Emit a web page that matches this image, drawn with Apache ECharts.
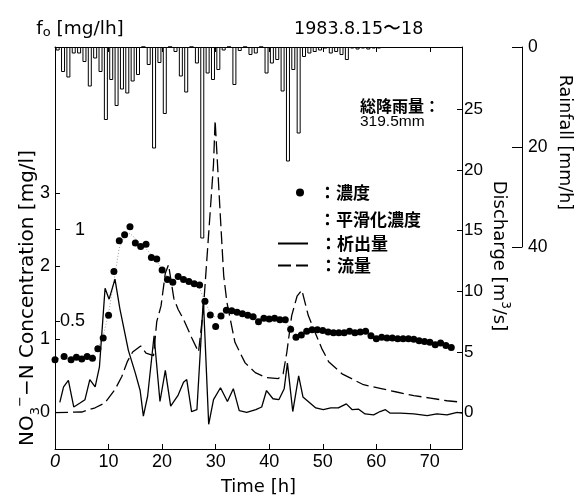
<!DOCTYPE html>
<html><head><meta charset="utf-8">
<script src="https://cdn.jsdelivr.net/npm/echarts@6/dist/echarts.min.js"></script>
<style>html,body{margin:0;padding:0;background:#fff}#c{width:581px;height:499px}</style>
</head><body><div id="c"></div>
<script>
// ---- tick labels ----
const timeTicks = [0, 10, 20, 30, 40, 50, 60, 70];
const concTicks = [0, 1, 2, 3];
const fluxTicks = [0.5, 1];
const dischargeTicks = [0, 5, 10, 15, 20, 25];
const rainTicks = [0, 20, 40];

// ---- NO3-N concentration (dots) [mg/l] ----
const concTime = [0,1.7,3,4,5,6,7,8,9,10,11,12,13,14,15,16,17,18,19,20,21,22,23,24,25,26,27,28,29,30,31,32,33,34,35,36,37,38,39,40,41,42,43,44,45,46,47,48,49,50,51,52,53,54,55,56,57,58,59,60,61,62,63,64,65,66,67,68,69,70,71,72,73,74];
const concValue = [0.72,0.765,0.72,0.756,0.73,0.765,0.74,0.87,1.02,1.33,1.93,2.35,2.43,2.54,2.32,2.27,2.30,2.12,2.10,1.95,1.82,1.78,1.86,1.82,1.79,1.76,1.745,1.52,1.335,1.175,1.32,1.40,1.39,1.37,1.35,1.33,1.31,1.24,1.29,1.28,1.29,1.27,1.27,1.14,1.03,1.06,1.11,1.13,1.13,1.12,1.10,1.09,1.09,1.09,1.11,1.09,1.10,1.11,1.05,1.01,1.03,1.02,1.02,1.01,1.01,1.01,1.00,0.98,0.97,0.96,0.925,0.95,0.915,0.89];

// ---- smoothed concentration [mg/l] ----
const smoothTime = [0,1,2,3,4,5,6,7,8,9,10,11,12,13,14,15,16,17,18,19,20,21,22,23,24,25,26,27,28,29,30,31,32,33,34,35,36,37,38,39,40,41,42,43,44,45,46,47,48,49,50,51,52,53,54,55,56,57,58,59,60,61,62,63,64,65,66,67,68,69,70,71,72,73,74];
const smoothValue = [0.73,0.74,0.74,0.74,0.74,0.75,0.75,0.78,0.87,1.05,1.35,1.80,2.25,2.42,2.45,2.38,2.30,2.24,2.16,2.07,1.96,1.86,1.82,1.82,1.81,1.79,1.76,1.70,1.52,1.36,1.30,1.33,1.37,1.38,1.37,1.35,1.33,1.30,1.28,1.28,1.28,1.28,1.27,1.24,1.14,1.07,1.07,1.10,1.12,1.12,1.11,1.10,1.09,1.09,1.10,1.10,1.10,1.10,1.09,1.05,1.03,1.02,1.02,1.02,1.01,1.01,1.01,1.00,0.98,0.97,0.95,0.94,0.93,0.91,0.89];

// ---- f_o (析出量) [mg/lh] ----
const fluxTime = [0.9,1.6,2.5,3.5,4.6,5.6,6.5,7.5,8.3,9.35,10.1,11.2,12.1,13.7,15.0,15.9,16.5,17.3,18.5,19.6,20.6,21.6,23.0,24.0,24.6,25.5,26.5,27.7,28.7,29.6,30.9,32.2,33.3,34.4,35.8,37.5,38.6,39.5,40.7,41.8,42.8,43.4,44.4,45.5,46.3,47.5,48.7,50.1,51.5,52.9,54.4,55.5,56.7,57.9,59.5,60.7,61.7,62.6,64.5,67.0,69.5,71.3,73.2,75.1,76.0];
const fluxValue = [0.055,0.14,0.175,0.03,0.05,0.07,0.18,0.14,0.25,0.68,0.62,0.73,0.57,0.34,0.215,0.12,-0.02,0.09,0.42,0.06,0.23,0.035,0.095,0.165,0.18,0.005,0.015,0.62,-0.065,0.07,0.135,0.06,0.13,0.01,0.0,0.015,0.03,0.12,0.075,0.07,0.13,0.27,0.005,0.2,0.085,0.055,0.025,0.015,0.025,0.025,0.047,0.015,0.018,-0.008,-0.013,0.005,0.015,-0.004,-0.004,-0.008,-0.017,-0.008,-0.013,0.0,-0.004];

// ---- discharge (流量) [m3/s] ----
const dischargeTime = [0,5,7.5,9.3,11.2,12.5,13.5,14.5,16.0,17.0,18.4,19.0,19.8,20.6,21.2,22.2,23.0,24.0,25.5,26.8,27.7,28.7,29.6,29.9,30.8,31.5,32.1,33.6,35.5,37.4,39.3,41.7,42.6,43.3,44.2,45.2,46.1,47.3,48.3,49.8,51.1,53.6,57.6,60.7,63.8,67.0,70.1,73.2,75.7];
const dischargeValue = [0,0.05,0.4,0.8,1.9,3.0,4.2,5.0,5.5,4.9,4.7,7.5,8.8,11.5,12.2,9.4,8.5,7.7,6.2,5.0,8.5,14.8,20.5,24.1,16.8,11.3,9.1,5.8,4.1,3.3,2.9,2.8,3.2,5.0,8.0,9.6,10.1,8.0,6.9,5.3,4.2,3.2,2.3,2.0,1.7,1.4,1.2,0.98,0.87];

// ---- hourly rainfall [mm/h] ----
const rainHour = [0,1,2,3,4,5,6,7,8,9,10,11,12,13,14,15,16,17,18,19,20,21,22,23,24,25,26,27,28,29,30,31,32,33,34,35,36,37,38,39,40,41,42,43,44,45,46,47,48,49,50,51,52,53,54,55,56,57,58,59,60];
const rainValue = [0.7,5.0,6.1,1.3,1.3,3.0,7.9,2.3,5.0,14.6,6.6,11.8,8.5,9.3,6.9,5.6,0,3.6,20.3,3.2,13.4,0,1.0,5.9,9.1,0,3.3,38.3,5.3,6.6,4.6,0.7,0,7.6,0.8,0,1.6,1.3,0,5.3,3.3,2.6,8.9,22.9,4.6,17.3,2.0,1.3,1.0,0.7,0.3,1.3,1.0,1.6,2.6,0.3,0.5,0.3,0.5,0.3,0.3];

const zip = (a, b) => a.map((v, i) => [v, b[i]]);

const TICKF = '"Liberation Sans", Arial, sans-serif';
const TEXTF = '"DejaVu Sans", sans-serif';
const CJKF = '"Noto Sans CJK JP", sans-serif';
const axisLine = () => ({ show: true, onZero: false, lineStyle: { color: '#000', width: 1 } });
const tick = (len, vals) => ({ show: true, inside: true, length: len, lineStyle: { color: '#000', width: 1 }, customValues: vals });
const legendText = (pad) => ({ fontFamily: CJKF, fontSize: 17, fontWeight: 'bold', color: '#000', padding: [0, 0, 0, pad] });
const hiddenSymbol = { color: 'rgba(0,0,0,0)', borderWidth: 0, opacity: 0 };

const chart = echarts.init(document.getElementById('c'), null, { renderer: 'canvas' });
chart.setOption({
  animation: false,
  backgroundColor: '#fff',
  title: {
    text: '1983.8.15〜18', left: 294, top: 20, padding: 0,
    textStyle: { fontFamily: TEXTF, fontSize: 17.5, fontWeight: 'normal', color: '#000' }
  },
  grid: [
    { left: 55, right: 119, top: 47, bottom: 50, outerBoundsMode: 'none' },
    { left: 55, right: 119, top: 47, height: 200, outerBoundsMode: 'none' }
  ],
  xAxis: [
    {
      gridIndex: 0, type: 'value', min: 0, max: 76, interval: 10, position: 'bottom',
      axisLine: axisLine(), splitLine: { show: false }, axisTick: tick(5, timeTicks),
      axisLabel: {
        customValues: timeTicks, margin: 4, color: '#000', fontFamily: TICKF, fontSize: 18,
        formatter: v => v === 0 ? '{i|0}' : String(v),
        rich: { i: { fontStyle: 'italic', fontFamily: TICKF, fontSize: 18, color: '#000' } }
      },
      name: 'Time [h]', nameLocation: 'middle', nameGap: 29, nameMoveOverlap: false,
      nameTextStyle: { fontFamily: TEXTF, fontSize: 18, color: '#000' }
    },
    {
      gridIndex: 0, type: 'value', min: 0, max: 76, interval: 10, position: 'top',
      axisLine: axisLine(), splitLine: { show: false }, axisTick: tick(5, timeTicks),
      axisLabel: { show: false }
    },
    { gridIndex: 1, type: 'value', min: 0, max: 76, show: false }
  ],
  yAxis: [
    {
      gridIndex: 0, type: 'value', position: 'left', min: -0.5, max: 5, interval: 0.5,
      axisLine: axisLine(), splitLine: { show: false }, axisTick: tick(5, concTicks),
      axisLabel: { customValues: concTicks, margin: 5, color: '#000', fontFamily: TICKF, fontSize: 18 },
      name: '{a|NO}{sub|3}{sup|−}{a|−N Concentration [mg/l]}',
      nameLocation: 'middle', nameRotate: 90, nameGap: 13, nameMoveOverlap: false,
      nameTextStyle: {
        padding: [0, 100, 0, 0],
        rich: {
          a: { fontFamily: TEXTF, fontSize: 20, color: '#000', lineHeight: 28, verticalAlign: 'middle' },
          sub: { fontFamily: TEXTF, fontSize: 13, color: '#000', lineHeight: 13, verticalAlign: 'bottom' },
          sup: { fontFamily: TEXTF, fontSize: 13, color: '#000', lineHeight: 13, verticalAlign: 'top' }
        }
      }
    },
    {
      gridIndex: 0, type: 'value', position: 'left', min: -0.2, max: 2.0, interval: 0.1,
      axisLine: { show: false, onZero: false }, splitLine: { show: false }, axisTick: tick(5, fluxTicks),
      axisLabel: { customValues: fluxTicks, inside: true, align: 'right', margin: 30, color: '#000', fontFamily: TICKF, fontSize: 18 },
      name: '{a|f}{s|o}{a| [mg/lh]}', nameLocation: 'end', nameGap: 8, nameMoveOverlap: false,
      nameTextStyle: {
        align: 'center', padding: [0, 0, 0, 50],
        rich: {
          a: { fontFamily: TEXTF, fontSize: 18.5, color: '#000', lineHeight: 20, verticalAlign: 'middle' },
          s: { fontFamily: TEXTF, fontSize: 13, color: '#000', lineHeight: 12, verticalAlign: 'bottom' }
        }
      }
    },
    {
      gridIndex: 0, type: 'value', position: 'right', min: -3, max: 30.15, interval: 1,
      axisLine: axisLine(), splitLine: { show: false }, axisTick: tick(5, dischargeTicks),
      axisLabel: { customValues: dischargeTicks, margin: 2, color: '#000', fontFamily: TICKF, fontSize: 17 },
      name: '{a|Discharge [m}{sup|3}{a|/s]}', nameLocation: 'middle', nameRotate: -90, nameGap: 25, nameMoveOverlap: false,
      nameTextStyle: {
        padding: [0, 0, 0, 16],
        rich: {
          a: { fontFamily: TEXTF, fontSize: 18, color: '#000', lineHeight: 24, verticalAlign: 'middle' },
          sup: { fontFamily: TEXTF, fontSize: 12, color: '#000', lineHeight: 12, verticalAlign: 'top' }
        }
      }
    },
    {
      gridIndex: 1, type: 'value', position: 'right', offset: 60, inverse: true, min: 0, max: 40, interval: 20,
      axisLine: axisLine(), splitLine: { show: false }, axisTick: tick(10, rainTicks),
      axisLabel: { customValues: rainTicks, margin: 6, color: '#000', fontFamily: TICKF, fontSize: 17.5 },
      name: 'Rainfall [mm/h]', nameLocation: 'middle', nameRotate: -90, nameGap: 34, nameMoveOverlap: false,
      nameTextStyle: { fontFamily: TEXTF, fontSize: 17.5, color: '#000', padding: [0, 9, 0, 0] }
    }
  ],
  legend: [
    { data: ['濃度'], left: 296, top: 184, padding: 0, itemWidth: 8, itemHeight: 8, icon: 'circle', selectedMode: false,
      formatter: '：{name}', textStyle: legendText(10) },
    { data: ['平滑化濃度'], left: 277, top: 211, padding: 0, itemWidth: 30, itemHeight: 10, icon: 'none', selectedMode: false,
      formatter: '：{name}', textStyle: legendText(7) },
    { data: ['析出量'], left: 277, top: 235, padding: 0, itemWidth: 30, itemHeight: 10, selectedMode: false,
      itemStyle: hiddenSymbol, formatter: '：{name}', textStyle: legendText(7) },
    { data: ['流量'], left: 277, top: 257, padding: 0, itemWidth: 30, itemHeight: 10, selectedMode: false,
      itemStyle: hiddenSymbol, formatter: '：{name}', textStyle: legendText(7) }
  ],
  graphic: [
    { type: 'text', left: 360, top: 98, style: { text: '総降雨量：', font: 'bold 16px "Noto Sans CJK JP"', fill: '#000' } },
    { type: 'text', left: 360, top: 114, style: { text: '319.5mm', font: '15.5px "Liberation Sans"', fill: '#000' } }
  ],
  series: [
    {
      name: '降雨量', type: 'bar', xAxisIndex: 2, yAxisIndex: 3,
      data: zip(rainHour.map(h => h + 0.5), rainValue), barWidth: 4, silent: true, z: 1,
      itemStyle: { color: '#fff', borderColor: '#000', borderWidth: 1 }
    },
    {
      name: '平滑化濃度', type: 'line', xAxisIndex: 0, yAxisIndex: 0, data: zip(smoothTime, smoothValue),
      symbol: 'none', z: 2, itemStyle: { color: '#999' }, lineStyle: { color: '#999', width: 1, type: [1, 2] }
    },
    {
      name: '析出量', type: 'line', xAxisIndex: 0, yAxisIndex: 1, data: zip(fluxTime, fluxValue),
      symbol: 'none', z: 3, itemStyle: { color: '#000' }, lineStyle: { color: '#000', width: 1.3 }
    },
    {
      name: '流量', type: 'line', xAxisIndex: 0, yAxisIndex: 2, data: zip(dischargeTime, dischargeValue),
      symbol: 'none', z: 3, itemStyle: { color: '#000' }, lineStyle: { color: '#000', width: 1.3, type: [13, 5] }
    },
    {
      name: '濃度', type: 'scatter', xAxisIndex: 0, yAxisIndex: 0, data: zip(concTime, concValue),
      symbolSize: 7, z: 4, itemStyle: { color: '#000', opacity: 1 }
    }
  ]
});
</script></body></html>
